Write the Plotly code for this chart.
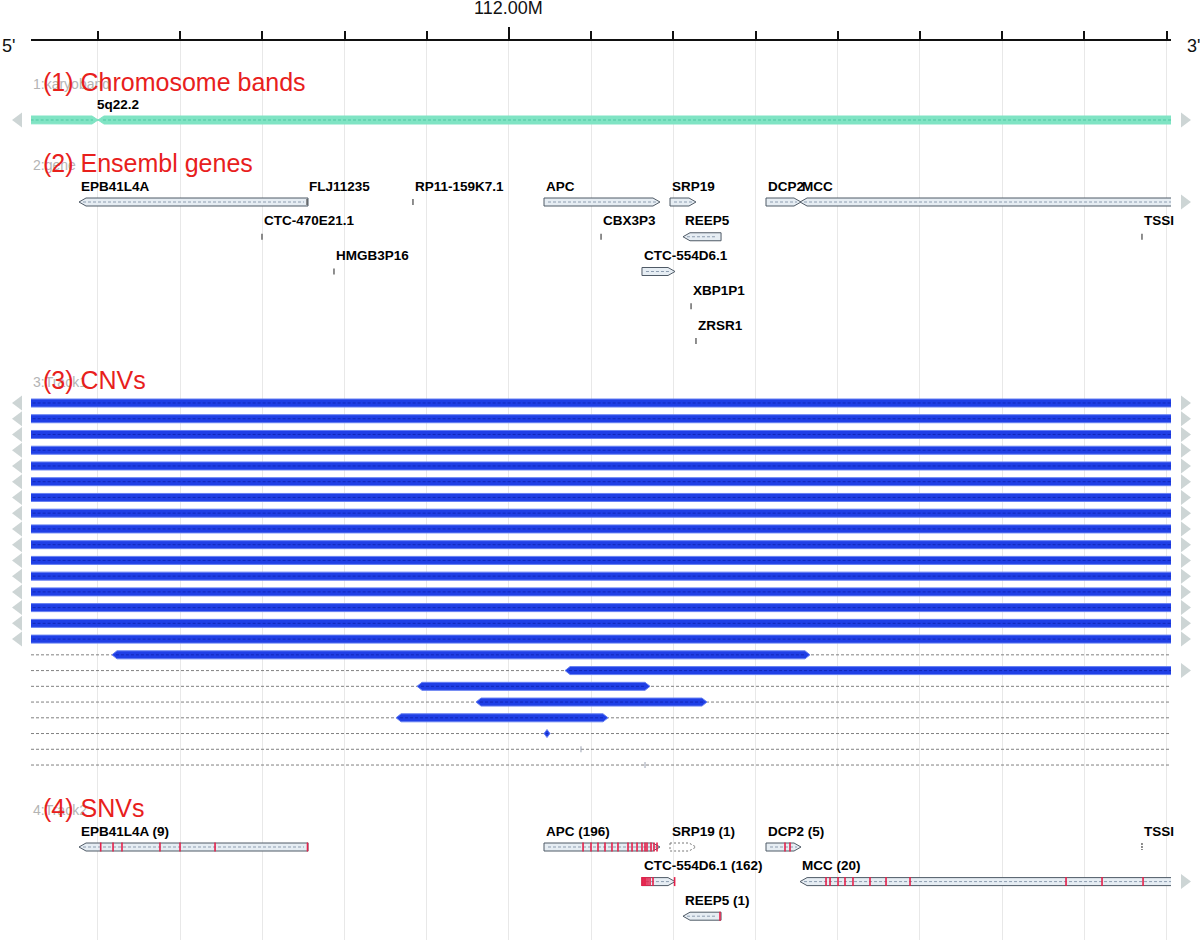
import plotly.graph_objects as go

# ---------------- data ----------------
VIEW_START = 111_418_500
VIEW_END = 112_805_400

AXIS_TICKS = [111_500_000, 111_600_000, 111_700_000, 111_800_000, 111_900_000,
              112_000_000, 112_100_000, 112_200_000, 112_300_000, 112_400_000,
              112_500_000, 112_600_000, 112_700_000, 112_800_000]
LABELED_TICK = 112_000_000
LABELED_TICK_TEXT = "112.00M"

TRACK_IDS = ["1:karyoband", "2:gene", "3:Track1", "4:Track2"]
TRACK_TITLES = ["(1) Chromosome bands", "(2) Ensembl genes", "(3) CNVs", "(4) SNVs"]

BAND_NAMES = ["5q22.1", "5q22.2"]
BAND_START = [109_800_000, 111_500_000]
BAND_END = [111_500_000, 113_100_000]

GENE_NAMES = ["EPB41L4A", "FLJ11235", "RP11-159K7.1", "APC", "SRP19", "DCP2", "MCC",
              "CTC-470E21.1", "CBX3P3", "REEP5", "TSSI",
              "HMGB3P16", "CTC-554D6.1",
              "XBP1P1",
              "ZRSR1"]
GENE_START = [111_476_900, 111_754_300, 111_883_200, 112_042_600, 112_195_900, 112_312_700, 112_354_100,
              111_699_500, 112_112_000, 112_211_700, 112_770_100,
              111_787_100, 112_161_800,
              112_221_500,
              112_227_500]
GENE_END = [111_755_500, 111_755_300, 111_884_000, 112_183_700, 112_227_500, 112_355_300, 112_824_500,
            111_700_300, 112_112_800, 112_258_000, 112_770_900,
            111_787_900, 112_202_000,
            112_222_300,
            112_228_300]
GENE_STRAND = ["-", "+", "+", "+", "+", "+", "-",
               "+", "+", "-", "+",
               "+", "+",
               "+",
               "+"]
GENE_ROW = [0, 0, 0, 0, 0, 0, 0,
            1, 1, 1, 1,
            2, 2,
            3,
            4]

CNV_START = [111_300_000] * 16 + [111_517_000, 112_068_200, 111_888_100, 111_959_900,
                                  111_862_600, 112_042_600, 112_087_600, 112_165_500]
CNV_END = [112_900_000] * 16 + [112_366_200, 112_900_000, 112_171_600, 112_240_900,
                                112_120_500, 112_049_900, 112_088_100, 112_166_000]

SNV_GENES = ["EPB41L4A", "APC", "SRP19", "DCP2", "TSSI", "CTC-554D6.1", "MCC", "REEP5"]
SNV_GENE_ROW = [0, 0, 0, 0, 0, 1, 1, 2]
SNV_COUNTS = [9, 196, 1, 5, None, 162, 20, 1]
SNV_POSITIONS = {
    "EPB41L4A": [111_503_300, 111_518_300, 111_529_200, 111_575_400, 111_599_800,
                 111_642_400, 111_754_900],
    "APC": [112_090_100, 112_099_800, 112_108_300, 112_116_800, 112_125_300, 112_132_600,
            112_144_800, 112_149_700, 112_155_800, 112_161_800, 112_165_500, 112_167_900,
            112_172_800, 112_176_400, 112_180_100],
    "SRP19": [],
    "DCP2": [112_335_800, 112_341_900],
    "TSSI": [],
    "CTC-554D6.1": [112_161_800, 112_163_000, 112_164_300, 112_165_500, 112_166_700,
                    112_169_100, 112_171_600, 112_175_200, 112_201_500],
    "MCC": [112_385_700, 112_390_600, 112_400_300, 112_408_800, 112_418_500, 112_439_200,
            112_458_700, 112_487_900, 112_677_700, 112_721_500, 112_771_400],
    "REEP5": [112_256_700],
}

# ---------------- layout / style ----------------
W, H = 1200, 940
ML, MR, MT = 31, 29, 41
PLOT_W = W - ML - MR
BP_PER_PX = (VIEW_END - VIEW_START) / PLOT_W

TITLE_Y = [82, 163, 380, 808]
BAND_Y, BAND_H = 120, 4
GENE_Y0, GENE_DY, GENE_H = 202, 34.75, 4
CNV_Y0, CNV_DY, CNV_H = 403, 15.74, 4
SNV_Y0, SNV_DY = 847, 34.6
LABEL_OFFSET = 16

GENE_FILL, GENE_LINE, GENE_DASH = "#e6edf3", "#4f5a66", "#8d9db0"
CNV_FILL, CNV_LINE, CNV_DASH = "#1f3fe6", "#6680f2", "#1228b8"
BAND_FILL, BAND_DASH = "#80e4c4", "#4fc8a2"
SNV_COLOR = "#e5204a"
TRI_COLOR = "#cdd5d5"
FONT = "Liberation Sans, Arial, sans-serif"
LABEL_FONT = dict(family=FONT, size=13.5, color="#000000", weight="bold")

fig = go.Figure()


def px(n):
    return n * BP_PER_PX


def glyph(start, end, strand, yc, h, tip_px):
    tip = px(tip_px)
    if end - start < 2 * tip:
        tip = (end - start) / 2
    if strand == "-":
        xs = [start, start + tip, end, end, start + tip, start]
        ys = [yc, yc - h, yc - h, yc + h, yc + h, yc]
    elif strand == "+":
        xs = [start, end - tip, end, end - tip, start, start]
        ys = [yc - h, yc - h, yc, yc + h, yc + h, yc - h]
    else:
        xs = [start, start + tip, end - tip, end, end - tip, start + tip, start]
        ys = [yc, yc - h, yc - h, yc, yc + h, yc + h, yc]
    return xs, ys


def add_poly(xs, ys, fill, line, lw=1, dash=None):
    fig.add_trace(go.Scatter(x=xs, y=ys, mode="lines", fill="toself" if fill else None,
                             fillcolor=fill, line=dict(color=line, width=lw, dash=dash),
                             hoverinfo="skip", showlegend=False))


def add_line(xs, ys, color, lw=1, dash=None):
    fig.add_trace(go.Scatter(x=xs, y=ys, mode="lines", line=dict(color=color, width=lw, dash=dash),
                             hoverinfo="skip", showlegend=False, connectgaps=False))


def add_label(text, x, y, font=LABEL_FONT):
    fig.add_annotation(text=text, x=x, y=y, xref="x", yref="y", xanchor="left",
                       yanchor="middle", showarrow=False, font=font)


left_tri_y, right_tri_y = [], []


def edge_marks(start, end, yc):
    if start < VIEW_START:
        left_tri_y.append(yc)
    if end > VIEW_END:
        right_tri_y.append(yc)


def draw_gene(name, start, end, strand, yc, label, dashed=False):
    if end - start < px(3):
        add_line([start, start], [yc - 3, yc + 3], "#444444", 1.2)
    else:
        xs, ys = glyph(start, end, strand, yc, GENE_H, 7)
        if dashed:
            add_poly(xs, ys, None, "#777777", 1, "2px,2px")
        else:
            add_poly(xs, ys, GENE_FILL, GENE_LINE, 1)
            add_line([start + px(4), end - px(4)], [yc, yc], GENE_DASH, 1, "3px,2px")
    if start >= VIEW_START:
        add_label(label, start, yc - LABEL_OFFSET)
    edge_marks(start, end, yc)


# ---- track 1: bands ----
add_line([VIEW_START, VIEW_END], [BAND_Y, BAND_Y], "#555555", 1)
for name, s, e in zip(BAND_NAMES, BAND_START, BAND_END):
    xs, ys = glyph(s, e, "both", BAND_Y, BAND_H, 6)
    add_poly(xs, ys, BAND_FILL, BAND_FILL, 1)
    add_line([s + px(5), e - px(5)], [BAND_Y, BAND_Y], BAND_DASH, 1, "3px,2px")
    if s >= VIEW_START:
        add_label(name, s - px(3), BAND_Y - LABEL_OFFSET)
    edge_marks(s, e, BAND_Y)

# ---- track 2: genes ----
for n, s, e, st, r in zip(GENE_NAMES, GENE_START, GENE_END, GENE_STRAND, GENE_ROW):
    draw_gene(n, s, e, st, GENE_Y0 + r * GENE_DY, n)

# ---- track 3: CNVs ----
bx, by = [], []
for i in range(len(CNV_START)):
    yc = CNV_Y0 + i * CNV_DY
    bx += [VIEW_START, VIEW_END, None]
    by += [yc, yc, None]
add_line(bx, by, "#808080", 1, "3px,2px")
for i, (s, e) in enumerate(zip(CNV_START, CNV_END)):
    yc = CNV_Y0 + i * CNV_DY
    if e - s < px(2):
        add_line([s, s], [yc - 3, yc + 3], "#9aa0b0", 1)
    else:
        xs, ys = glyph(s, e, "both", yc, CNV_H, 5)
        add_poly(xs, ys, CNV_FILL, CNV_LINE, 1)
        add_line([s + px(4), e - px(4)], [yc, yc], CNV_DASH, 1, "3px,2px")
    edge_marks(s, e, yc)

# ---- track 4: SNVs ----
sx, sy = [], []
for g, r, c in zip(SNV_GENES, SNV_GENE_ROW, SNV_COUNTS):
    k = GENE_NAMES.index(g)
    s, e, st = GENE_START[k], GENE_END[k], GENE_STRAND[k]
    yc = SNV_Y0 + r * SNV_DY
    label = g if c is None else f"{g} ({c})"
    if e - s < px(3):
        add_line([s, s], [yc - 4, yc + 3], "#444444", 1.2, "2px,1px")
        if s >= VIEW_START:
            add_label(label, s, yc - LABEL_OFFSET)
        continue
    draw_gene(g, s, e, st, yc, label, dashed=(len(SNV_POSITIONS[g]) == 0))
    for p in SNV_POSITIONS[g]:
        sx += [p, p, None]
        sy += [yc - GENE_H - 0.5, yc + GENE_H + 0.5, None]
add_line(sx, sy, SNV_COLOR, 1.6)

# ---- edge triangles (outside the plotting area, in paper units) ----
def tri_path(x_tip, x_base, yc, half):
    return f"M {x_tip},{yc} L {x_base},{yc - half} L {x_base},{yc + half} Z"

for yc in left_tri_y:
    fig.add_shape(type="path", xref="paper", yref="y",
                  path=tri_path(-19 / PLOT_W, -9 / PLOT_W, yc, 7.5),
                  fillcolor=TRI_COLOR, line=dict(width=0), layer="above")
for yc in right_tri_y:
    fig.add_shape(type="path", xref="paper", yref="y",
                  path=tri_path(1 + 20 / PLOT_W, 1 + 10 / PLOT_W, yc, 7.5),
                  fillcolor=TRI_COLOR, line=dict(width=0), layer="above")

# ---- track titles ----
for tid, title, ty in zip(TRACK_IDS, TRACK_TITLES, TITLE_Y):
    fig.add_annotation(text=tid, xref="paper", x=0, y=ty + 2, yref="y", xanchor="left",
                       yanchor="middle", showarrow=False,
                       font=dict(family=FONT, size=14, color="#b4b4b4"))
    fig.add_annotation(text=title, xref="paper", x=10 / PLOT_W, y=ty, yref="y", xanchor="left",
                       yanchor="middle", showarrow=False,
                       font=dict(family=FONT, size=25, color="#e8201c"))

# ---- axis decorations ----
def paper_y(pix):
    return (H - pix) / (H - MT)

fig.add_annotation(text=LABELED_TICK_TEXT, x=LABELED_TICK, xref="x", y=paper_y(8), yref="paper",
                   xanchor="center", yanchor="middle", showarrow=False,
                   font=dict(family=FONT, size=18, color="#111111"))
fig.add_shape(type="line", x0=LABELED_TICK, x1=LABELED_TICK, xref="x", y0=1, y1=paper_y(27),
              yref="paper", line=dict(color="#111111", width=2))
fig.add_annotation(text="5'", xref="paper", x=-ML / PLOT_W, y=46, yref="y", xanchor="left",
                   yanchor="middle", showarrow=False,
                   font=dict(family=FONT, size=18, color="#111111"))
fig.add_annotation(text="3'", xref="paper", x=(1185 - ML) / PLOT_W, y=46, yref="y", xanchor="left",
                   yanchor="middle", showarrow=False,
                   font=dict(family=FONT, size=18, color="#111111"))

fig.update_layout(
    width=W, height=H, margin=dict(l=ML, r=MR, t=MT, b=0, autoexpand=False),
    plot_bgcolor="white", paper_bgcolor="white", showlegend=False,
    xaxis=dict(range=[VIEW_START, VIEW_END], side="top", showline=True, linecolor="#111111",
               linewidth=2, ticks="outside", ticklen=8, tickwidth=2, tickcolor="#111111",
               tickvals=AXIS_TICKS, ticktext=[""] * len(AXIS_TICKS), showgrid=True,
               gridcolor="#e8e8e8", gridwidth=1, zeroline=False, fixedrange=True),
    yaxis=dict(range=[H, MT], visible=False, fixedrange=True),
)

fig.write_html("out.html", config={"displayModeBar": False},
               post_script="document.body.style.margin='0px';")
